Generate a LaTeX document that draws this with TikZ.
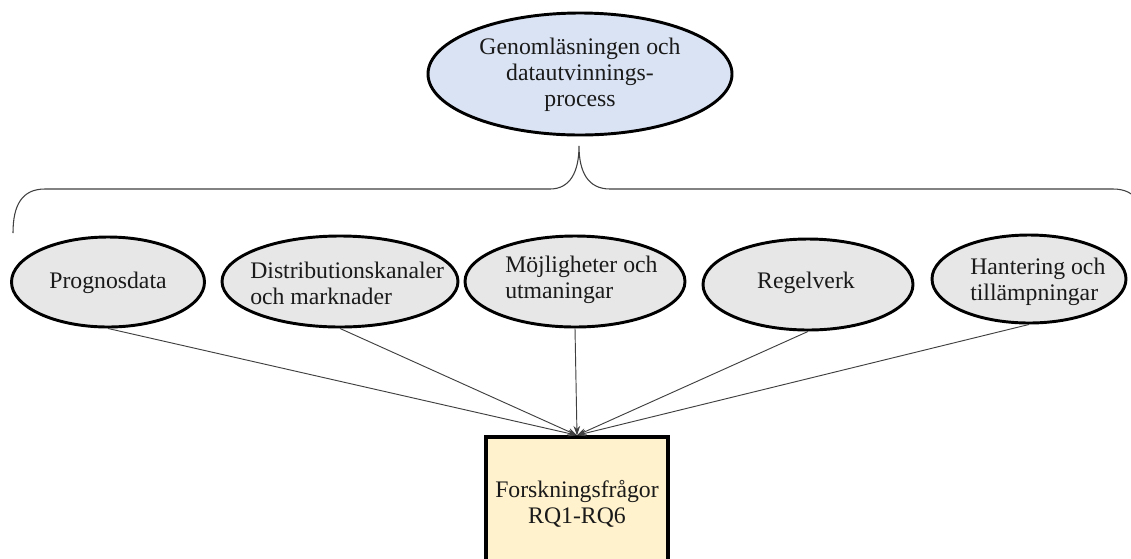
\documentclass[tikz,border=0pt]{standalone}
\usepackage{fontspec}
\setmainfont{Liberation Serif}
\usetikzlibrary{shapes.geometric,arrows.meta}
\definecolor{topfill}{HTML}{DAE3F3}
\definecolor{topicfill}{HTML}{E7E7E7}
\definecolor{rqfill}{HTML}{FFF2CC}
\definecolor{inkline}{HTML}{404040}
\definecolor{ink}{HTML}{1A1A1A}
\tikzset{
  esize/.style 2 args={minimum width=#1*0.75pt, minimum height=#2*0.75pt},
  topic/.style={ellipse, draw=black, line width=2.2pt, fill=topicfill, inner sep=0pt},
  mainellipse/.style={ellipse, draw=black, line width=2.2pt, fill=topfill, inner sep=0pt},
  label text/.style={inner sep=0pt, text=ink, font=\fontsize{17.8pt}{19.4pt}\selectfont},
  rqbox/.style={rectangle, draw=black, line width=2.6pt, fill=rqfill, inner sep=0pt},
  conn/.style={draw=inkline, line width=0.7pt, -{Stealth[length=7pt,width=5pt]}},
  bracket/.style={draw=inkline, line width=0.8pt},
}
\begin{document}
\begin{tikzpicture}[x=0.75pt, y=-0.75pt]
\useasboundingbox (0,0) rectangle (1131,558);
\clip (0,0) rectangle (1131,558);
\fill[white] (0,0) rectangle (1131,558);

% process node at the top
\node[mainellipse, esize={304}{122}] (top) at (580,74) {};
\node[label text, align=center] (toptxt) at (580,75)
  {Genomläsningen och\\datautvinnings-\\process};

% curly bracket spanning the five topics
\coordinate (bl) at (13,233);
\coordinate (br) at (1145,233);
\coordinate (tip) at (579,146);
\draw[bracket] (bl) .. controls (13,205) and (22,189) .. (45,189)
  -- (550,189) .. controls (570,189) and (579,172) .. (tip)
  .. controls (579,172) and (588,189) .. (610,189)
  -- (1113,189) .. controls (1136,189) and (1145,205) .. (br);

% topic ellipses
\node[topic, esize={193}{90}] (p1) at (108,282) {};
\node[topic, esize={236}{91}] (p2) at (340,281.5) {};
\node[topic, esize={220}{91}] (p3) at (575,281.5) {};
\node[topic, esize={210}{91}] (p4) at (808,284.5) {};
\node[topic, esize={194}{88}] (p5) at (1029,279) {};

\node[label text] (p1t) at (108,283) {Prognosdata};
\node[label text, anchor=west, align=left] (p2t) at (250,283)
  {Distributionskanaler\\och marknader};
\node[label text, anchor=west, align=left] (p3t) at (505,280)
  {Möjligheter och\\utmaningar};
\node[label text] (p4t) at (806,283) {Regelverk};
\node[label text, anchor=west, align=left] (p5t) at (970,282)
  {Hantering och\\tillämpningar};

% research questions box (runs past the lower edge)
\node[rqbox, esize={182}{200}] (rq) at (577,537) {};
\node[label text, align=center] (rqt) at (577,503.5)
  {Forskningsfrågor\\RQ1-RQ6};

% connectors
\foreach \n in {p1,p2,p3,p4,p5}
  \draw[conn] (\n.south) -- (rq.north);
\end{tikzpicture}
\end{document}
